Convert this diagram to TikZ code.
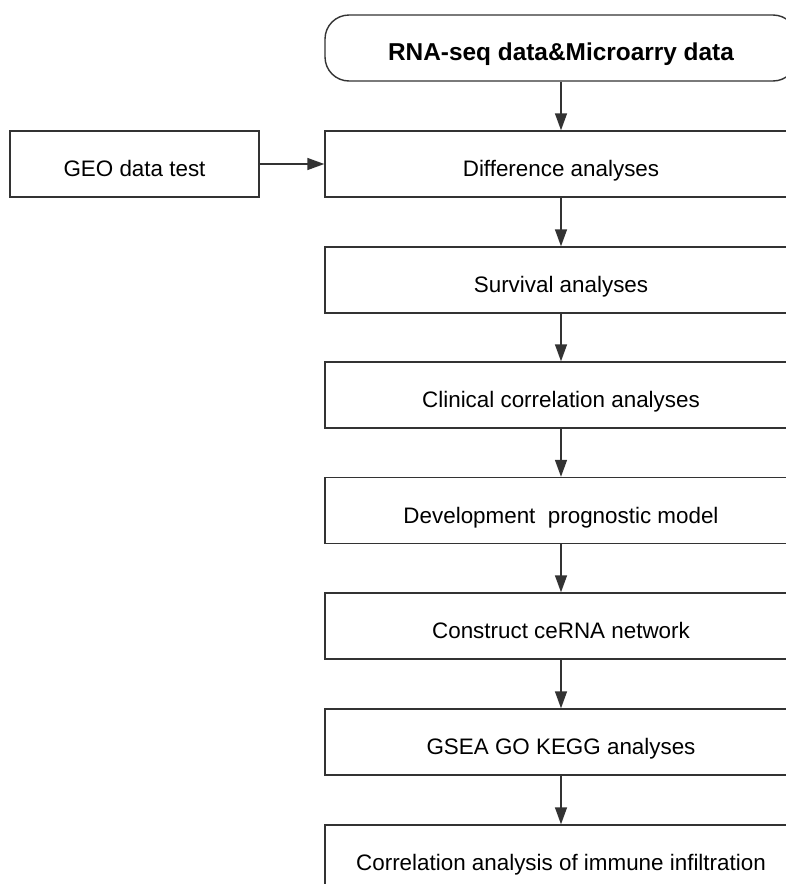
\documentclass[tikz,border=0pt]{standalone}
\usepackage{fontspec}
\setmainfont{Liberation Sans}
\usetikzlibrary{arrows.meta}
\begin{document}
\begin{tikzpicture}[x=0.5pt,y=-0.5pt,
        >={Triangle[length=8.5pt,width=6pt]},
        box/.style={draw=black!80, line width=0.7pt, rectangle, minimum width=236pt,
            minimum height=33pt, inner sep=0pt, text height=12.5pt, text depth=0pt,
            font=\fontsize{11.2}{13}\selectfont},
        sidebox/.style={box, minimum width=124.5pt},
        startbox/.style={box, rounded corners=12pt, font=\bfseries\fontsize{12.2}{14}\selectfont},
        flow/.style={->, draw=black!80, line width=0.7pt}]
            \clip (0,0) rectangle (786,884);

            \node[startbox] (data) at (561,48) {RNA-seq data\&Microarry data};
            \node[box] (diff) at (561,164) {Difference analyses};
            \node[sidebox] (geo) at (134.5,164) {GEO data test};
            \node[box] (surv) at (561,280) {Survival analyses};
            \node[box] (clin) at (561,395) {Clinical correlation analyses};
            \node[box] (model) at (561,510.5) {Development\ \ prognostic model};
            \node[box] (cerna) at (561,626) {Construct ceRNA network};
            \node[box] (gsea) at (561,742) {GSEA GO KEGG analyses};
            \node[box] (immune) at (561,858) {Correlation analysis of immune infiltration};

            \draw[flow] (data) to (diff);
            \draw[flow] (geo) to (diff);
            \draw[flow] (diff) to (surv);
            \draw[flow] (surv) to (clin);
            \draw[flow] (clin) to (model);
            \draw[flow] (model) to (cerna);
            \draw[flow] (cerna) to (gsea);
            \draw[flow] (gsea) to (immune);
\end{tikzpicture}
\end{document}
